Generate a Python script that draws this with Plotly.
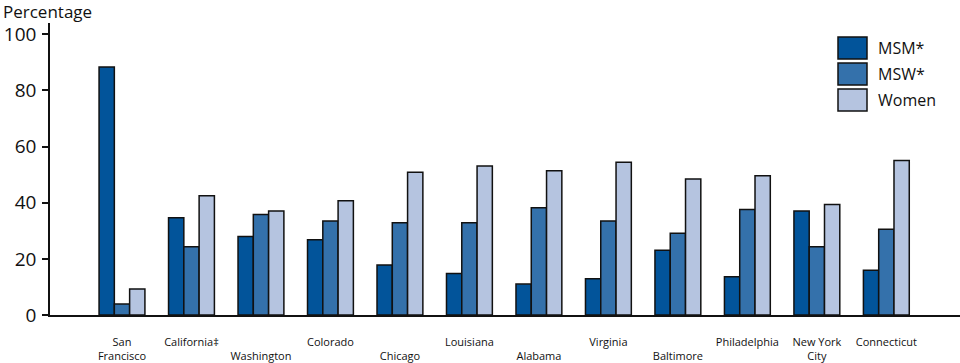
import plotly.graph_objects as go

categories = ["San<br>Francisco", "California‡", "<br>Washington", "Colorado", "<br>Chicago",
              "Louisiana", "<br>Alabama", "Virginia", "<br>Baltimore", "Philadelphia",
              "New York<br>City", "Connecticut"]
msm = [88.3, 34.6, 28.0, 26.8, 17.8, 14.8, 11.0, 12.9, 23.1, 13.6, 37.0, 15.9]
msw = [3.9, 24.3, 35.8, 33.5, 32.9, 32.9, 38.2, 33.5, 29.1, 37.6, 24.3, 30.5]
women = [9.3, 42.5, 37.0, 40.7, 50.8, 53.1, 51.4, 54.4, 48.4, 49.6, 39.4, 55.0]
series_names = ["MSM*", "MSW*", "Women"]
colors = ["#02549a", "#3471ab", "#b5c4e0"]

FONT = "Open Sans"
fig = go.Figure()
for name, vals, col in zip(series_names, [msm, msw, women], colors):
    fig.add_trace(go.Bar(x=categories, y=vals, name=name,
                         marker=dict(color=col, line=dict(color="#111111", width=1.5)),
                         showlegend=False))

# custom legend with large swatches
for i, (name, col) in enumerate(zip(series_names, colors)):
    y0 = 37 + i * 26
    fig.add_shape(type="rect", xref="paper", yref="paper",
                  x0=(838 - 50) / 910, x1=(867 - 50) / 910,
                  y0=(315 - (y0 + 22)) / 292, y1=(315 - y0) / 292,
                  fillcolor=col, line=dict(color="#111111", width=1.5))
    fig.add_annotation(xref="paper", yref="paper", x=(876 - 50) / 910, y=(315 - (y0 + 11)) / 292,
                       text=name, showarrow=False, xanchor="left", yanchor="middle",
                       font=dict(family=FONT, size=16, color="#111111"))

fig.add_annotation(xref="paper", yref="paper", x=(1 - 50) / 910, y=(315 - 11) / 292,
                   text="Percentage", showarrow=False, xanchor="left", yanchor="middle",
                   font=dict(family=FONT, size=17, color="#111111"))

fig.update_layout(
    width=960, height=363,
    margin=dict(l=50, r=0, t=23, b=48, autoexpand=False),
    paper_bgcolor="white", plot_bgcolor="white",
    barmode="group", bargap=0.34, bargroupgap=0,
    font=dict(family=FONT, color="#111111"),
    xaxis=dict(type="category", range=[-1.036, 12.06], showline=True, linecolor="#111111",
               linewidth=1.5, ticks="", showgrid=False, zeroline=False, automargin=False,
               tickfont=dict(family=FONT, size=11, color="#111111"), ticklabelstandoff=16,
               tickangle=0),
    yaxis=dict(range=[0, 104], tickvals=[0, 20, 40, 60, 80, 100], showline=True,
               linecolor="#111111", linewidth=1.5, ticks="outside", ticklen=6,
               tickwidth=1.5, tickcolor="#111111", showgrid=False, zeroline=False,
               automargin=False, ticklabelstandoff=2,
               tickfont=dict(family=FONT, size=19, color="#111111")),
)

fig.write_html("out.html", config={"displayModeBar": False},
               post_script="document.body.style.margin='0';document.body.style.overflow='hidden';")
